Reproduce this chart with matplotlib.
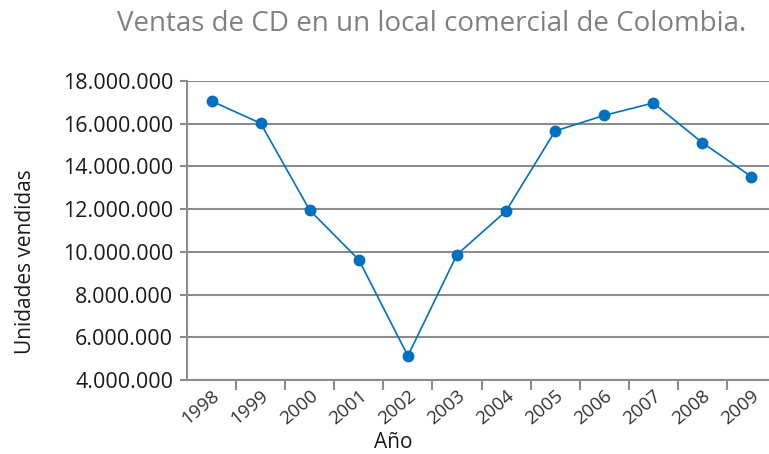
import matplotlib
matplotlib.use("Agg")
import matplotlib.pyplot as plt
import matplotlib.transforms as mtransforms
from matplotlib.ticker import FixedLocator, FuncFormatter

years = ["1998", "1999", "2000", "2001", "2002", "2003", "2004", "2005", "2006", "2007", "2008", "2009"]
sales = [17060000, 16020000, 11950000, 9630000, 5130000, 9870000, 11910000, 15660000, 16390000, 16970000, 15110000, 13520000]
yticks = [4000000, 6000000, 8000000, 10000000, 12000000, 14000000, 16000000, 18000000]

title = "Ventas de CD en un local comercial de Colombia."
xlabel = "Año"
ylabel = "Unidades vendidas"

plt.rcParams['font.family'] = ['Open Sans', 'DejaVu Sans']

fig = plt.figure(figsize=(7.69, 4.54), dpi=100)
ax = fig.add_axes([187/769, 74/454, 589/769, 299/454])

x = list(range(len(years)))
ax.plot(x, sales, color="#0070C0", lw=1.2, marker="o", ms=7.5, zorder=3, clip_on=False)

ax.set_xlim(-0.5, len(years) - 0.5)
ax.set_ylim(yticks[0], yticks[-1])
ax.yaxis.set_major_locator(FixedLocator(yticks))
ax.yaxis.set_major_formatter(FuncFormatter(lambda v, p: f"{int(v):,}".replace(",", ".")))
ax.grid(axis="y", color="#8c8c8c", lw=1.5)
ax.set_axisbelow(True)

# ticks at category boundaries, labels at centres
ax.set_xticks([i + 0.5 for i in x[:-1]])
ax.set_xticklabels([])
ax.set_xticks(x, minor=True)
ax.set_xticklabels(years, minor=True, rotation=40, ha="right", va="top",
                   rotation_mode="anchor", fontsize=13.5, color="#333333")
offset = mtransforms.ScaledTranslation(4/100, 0, fig.dpi_scale_trans)
for lbl in ax.get_xticklabels(minor=True):
    lbl.set_transform(lbl.get_transform() + offset)
ax.tick_params(axis="x", which="major", length=7, color="#8c8c8c", width=1.5)
ax.tick_params(axis="x", which="minor", length=0, pad=5)
ax.tick_params(axis="y", length=5, color="#8c8c8c", width=1.5, labelsize=15.5, pad=5, labelcolor="#1a1a1a")

for s in ["top", "right"]:
    ax.spines[s].set_visible(False)
for s in ["left", "bottom"]:
    ax.spines[s].set_color("#8c8c8c")
    ax.spines[s].set_linewidth(1.5)

fig.text(432/769, 1 - 24/454, title, ha="center", va="center", fontsize=20, color="#808080")
fig.text(393/769, 1 - 442/454, xlabel, ha="center", va="center", fontsize=15, color="#1a1a1a")
fig.text(26/769, 1 - 262/454, ylabel, ha="center", va="center", rotation=90, fontsize=15, color="#1a1a1a")

fig.savefig("out.png", dpi=100)
